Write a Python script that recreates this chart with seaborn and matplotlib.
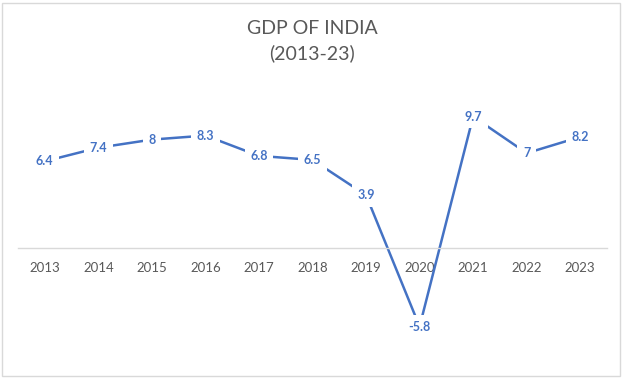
import pandas as pd
import seaborn as sns
import matplotlib.pyplot as plt
from matplotlib.patches import Rectangle

# data
years = ['2013', '2014', '2015', '2016', '2017', '2018',
         '2019', '2020', '2021', '2022', '2023']
gdp = [6.4, 7.4, 8, 8.3, 6.8, 6.5, 3.9, -5.8, 9.7, 7, 8.2]
labels = ['6.4', '7.4', '8', '8.3', '6.8', '6.5', '3.9', '-5.8', '9.7', '7', '8.2']

df = pd.DataFrame({'year': years, 'gdp': gdp})

sns.set_style('white')
plt.rcParams['font.family'] = ['Lato', 'DejaVu Sans']

blue = '#4472C4'
grey = '#595959'

fig = plt.figure(figsize=(6.24, 3.78), dpi=100)
ax = fig.add_axes([18 / 624, 1 - 360 / 378, 589 / 624, 280 / 378])

sns.lineplot(data=df, x='year', y='gdp', ax=ax, color=blue, linewidth=1.8, sort=False)

# labels centred on the points, white box hides the line underneath
for i, (v, t) in enumerate(zip(gdp, labels)):
    ax.text(i, v, t, ha='center', va='center', fontsize=9, fontweight='bold',
            color=blue, bbox=dict(boxstyle='square,pad=0.45', fc='white', ec='none'))

ax.set_xlim(-0.5, len(years) - 0.5)
ax.set_ylim(-8.27, 12.4)

for s in ['top', 'right', 'left']:
    ax.spines[s].set_visible(False)
ax.spines['bottom'].set_position(('data', 0))
ax.spines['bottom'].set_color('#D9D9D9')
ax.spines['bottom'].set_linewidth(1)
ax.set_yticks([])
ax.tick_params(axis='x', length=0, pad=10, labelsize=9.5, labelcolor=grey)
ax.set_xlabel('')
ax.set_ylabel('')

fig.text(0.5, 1 - 28 / 378, 'GDP OF INDIA', ha='center', va='center', fontsize=14, color=grey)
fig.text(0.5, 1 - 53 / 378, '(2013-23)', ha='center', va='center', fontsize=14, color=grey)

# chart border
fig.patches.append(Rectangle((2 / 624, 2 / 378), 618 / 624, 373 / 378, transform=fig.transFigure,
                             fill=False, ec='#D9D9D9', lw=1))

fig.savefig('out.png', dpi=100)
